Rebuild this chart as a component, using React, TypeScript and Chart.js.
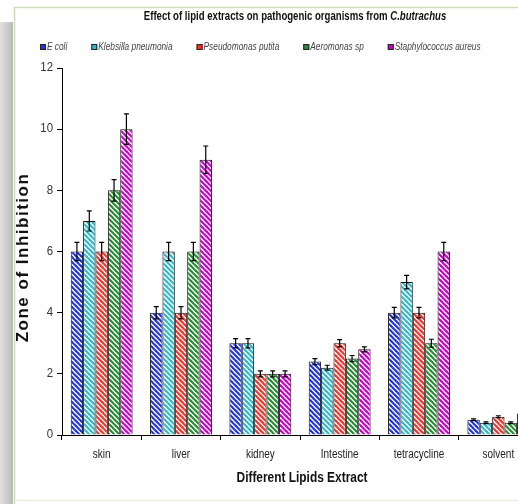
import React, { useEffect, useRef } from 'react';
import { Chart, registerables } from 'chart.js';

Chart.register(...registerables);

const categories = ['skin', 'liver', 'kidney', 'Intestine', 'tetracycline', 'solvent'];
const seriesNames = ['E coli', 'Klebsilla pneumonia', 'Pseudomonas putita', 'Aeromonas sp', 'Staphylococcus aureus'];
const eColi = [6, 4, 3, 2.4, 4, 0.5];
const klebsilla = [7, 6, 3, 2.2, 5, 0.4];
const pseudomonas = [6, 4, 2, 3, 4, 0.6];
const aeromonas = [8, 6, 2, 2.5, 3, 0.4];
const staphylococcus = [10, 9, 2, 2.8, 6, 0.7];
const eColiErr = [0.3, 0.2, 0.15, 0.1, 0.17, 0.03];
const klebsillaErr = [0.33, 0.3, 0.15, 0.08, 0.22, 0.03];
const pseudomonasErr = [0.3, 0.2, 0.1, 0.12, 0.17, 0.03];
const aeromonasErr = [0.35, 0.3, 0.1, 0.1, 0.13, 0.03];
const staphylococcusErr = [0.5, 0.45, 0.1, 0.08, 0.3, 0.03];
const yTicks = [0, 2, 4, 6, 8, 10, 12];
const seriesColors = ['#1f35e0', '#33b8c8', '#f2352c', '#2a8a35', '#cc00cc'];
const titleMain = 'Effect of lipid extracts on pathogenic organisms from ';
const titleItalic = 'C.butrachus';
const xTitle = 'Different Lipids Extract';
const yTitle = 'Zone of Inhibition';

const SANS = "'Liberation Sans', Arial, sans-serif";

function makePattern(color: string): CanvasPattern | string {
  const s = 5;
  const c = document.createElement('canvas');
  c.width = s;
  c.height = s;
  const g = c.getContext('2d');
  if (!g) return color;
  g.fillStyle = '#ffffff';
  g.fillRect(0, 0, s, s);
  g.strokeStyle = color;
  g.lineWidth = 2.2;
  for (const k of [-s, 0, s]) {
    g.beginPath();
    g.moveTo(k - 1, -1);
    g.lineTo(k + s + 1, s + 1);
    g.stroke();
  }
  const p = g.createPattern(c, 'repeat');
  return p || color;
}

function narrowText(ctx: any, text: string, x: number, y: number, font: string, sx: number, align: string, color: string) {
  ctx.save();
  ctx.translate(x, y);
  ctx.scale(sx, 1);
  ctx.font = font;
  ctx.fillStyle = color;
  ctx.textAlign = align;
  ctx.textBaseline = 'middle';
  ctx.fillText(text, 0, 0);
  ctx.restore();
}

export default function App() {
  const ref = useRef<HTMLCanvasElement | null>(null);

  useEffect(() => {
    const canvas = ref.current;
    if (!canvas) return;
    const values = [eColi, klebsilla, pseudomonas, aeromonas, staphylococcus];
    const errors = [eColiErr, klebsillaErr, pseudomonasErr, aeromonasErr, staphylococcusErr];

    const frame = {
      id: 'frame',
      beforeDraw(chart: any) {
        const ctx = chart.ctx;
        const w = chart.width;
        const h = chart.height;
        ctx.save();
        ctx.fillStyle = '#ffffff';
        ctx.fillRect(0, 0, w, h);
        const gx = ctx.createLinearGradient(0, 0, 13, 0);
        gx.addColorStop(0, '#e2e2e2');
        gx.addColorStop(1, '#b8b8b8');
        ctx.fillStyle = gx;
        ctx.fillRect(0, 22, 13, h - 22);
        const gy = ctx.createLinearGradient(0, 8, 0, 24);
        gy.addColorStop(0, 'rgba(255,255,255,1)');
        gy.addColorStop(1, 'rgba(255,255,255,0)');
        ctx.fillStyle = gy;
        ctx.fillRect(0, 8, 13, 16);
        ctx.strokeStyle = '#c9dcb5';
        ctx.lineWidth = 1.5;
        ctx.beginPath();
        ctx.moveTo(14.5, h);
        ctx.lineTo(14.5, 7.5);
        ctx.lineTo(w, 7.5);
        ctx.stroke();
        ctx.strokeStyle = '#e6f0dc';
        ctx.beginPath();
        ctx.moveTo(14, 500.5);
        ctx.lineTo(w, 500.5);
        ctx.stroke();
        ctx.restore();
      },
    };

    const errorBars = {
      id: 'errorBars',
      afterDatasetsDraw(chart: any) {
        const ctx = chart.ctx;
        const ys = chart.scales.y;
        ctx.save();
        ctx.strokeStyle = '#000000';
        ctx.lineWidth = 1.2;
        values.forEach((vals, i) => {
          const meta = chart.getDatasetMeta(i);
          meta.data.forEach((el: any, j: number) => {
            const v = vals[j];
            const e = errors[i][j];
            const top = ys.getPixelForValue(v + e);
            const bot = ys.getPixelForValue(v - e);
            const x = el.x;
            ctx.beginPath();
            ctx.moveTo(x, top);
            ctx.lineTo(x, bot);
            ctx.moveTo(x - 2.5, top);
            ctx.lineTo(x + 2.5, top);
            ctx.moveTo(x - 2.5, bot);
            ctx.lineTo(x + 2.5, bot);
            ctx.stroke();
          });
        });
        ctx.restore();
      },
    };

    const texts = {
      id: 'texts',
      afterDraw(chart: any) {
        const ctx = chart.ctx;
        const area = chart.chartArea;
        const xs = chart.scales.x;
        const ys = chart.scales.y;
        ctx.save();
        // title (mixed upright / italic)
        const sx = 0.8;
        const f1 = `bold 12px ${SANS}`;
        const f2 = `italic bold 12px ${SANS}`;
        ctx.font = f1;
        const w1 = ctx.measureText(titleMain).width * sx;
        ctx.font = f2;
        const w2 = ctx.measureText(titleItalic).width * sx;
        const cx = (area.left + area.right) / 2 - 5;
        const x0 = cx - (w1 + w2) / 2;
        narrowText(ctx, titleMain, x0, 17, f1, sx, 'left', '#111111');
        narrowText(ctx, titleItalic, x0 + w1, 17, f2, sx, 'left', '#111111');

        // legend
        const lf = `italic 10px ${SANS}`;
        const lsx = 0.83;
        ctx.font = lf;
        let lx = 40;
        const ly = 47;
        seriesNames.forEach((name, i) => {
          ctx.fillStyle = seriesColors[i];
          ctx.fillRect(lx, ly - 3, 6, 6);
          ctx.strokeStyle = '#222222';
          ctx.lineWidth = 1;
          ctx.strokeRect(lx + 0.5, ly - 2.5, 5, 5);
          narrowText(ctx, name, lx + 7, ly, lf, lsx, 'left', '#444444');
          ctx.font = lf;
          lx += 7 + ctx.measureText(name).width * lsx + 24;
        });

        // x tick labels
        categories.forEach((c, i) => {
          narrowText(ctx, c, xs.getPixelForValue(i), 455, `12.5px ${SANS}`, 0.8, 'center', '#222222');
        });
        // y tick labels
        yTicks.forEach((v) => {
          narrowText(ctx, String(v), 53, ys.getPixelForValue(v), `12px ${SANS}`, 0.95, 'right', '#333333');
        });
        // x title
        narrowText(ctx, xTitle, (area.left + area.right) / 2 + 2, 478, `bold 14px ${SANS}`, 0.85, 'center', '#111111');
        // y title
        ctx.save();
        ctx.translate(23, (area.top + area.bottom) / 2 + 6);
        ctx.rotate(-Math.PI / 2);
        ctx.font = `bold 17px ${SANS}`;
        (ctx as any).letterSpacing = '1.5px';
        ctx.fillStyle = '#111111';
        ctx.textAlign = 'center';
        ctx.textBaseline = 'middle';
        ctx.fillText(yTitle, 0, 0);
        ctx.restore();
        ctx.restore();
      },
    };

    const chart = new Chart(canvas, {
      type: 'bar',
      data: {
        labels: categories,
        datasets: values.map((vals, i) => ({
          label: seriesNames[i],
          data: vals,
          backgroundColor: makePattern(seriesColors[i]) as any,
          borderColor: '#111111',
          borderWidth: 1,
          barPercentage: 1,
          categoryPercentage: 0.78,
        })),
      },
      options: {
        responsive: false,
        animation: false,
        devicePixelRatio: 1,
        layout: { padding: { top: 68, right: 2, bottom: 0, left: 0 } },
        plugins: {
          legend: { display: false },
          title: { display: false },
          tooltip: { enabled: false },
        },
        scales: {
          x: {
            offset: true,
            grid: {
              display: true,
              offset: true,
              drawOnChartArea: false,
              drawTicks: true,
              tickLength: 5,
              color: '#000000',
            },
            border: { display: true, color: '#000000', width: 1 },
            ticks: { display: false, autoSkip: false },
            afterFit(scale: any) {
              scale.height = 69;
            },
          },
          y: {
            min: 0,
            max: 12,
            afterBuildTicks(scale: any) {
              scale.ticks = yTicks.map((v) => ({ value: v }));
            },
            grid: {
              display: true,
              drawOnChartArea: false,
              drawTicks: true,
              tickLength: 5,
              color: '#000000',
            },
            border: { display: true, color: '#000000', width: 1 },
            ticks: { display: false },
            afterFit(scale: any) {
              scale.width = 62;
            },
          },
        },
      },
      plugins: [frame, errorBars, texts],
    });

    return () => {
      chart.destroy();
    };
  }, []);

  return (
    <div
      style={{
        position: 'fixed',
        left: 0,
        top: 0,
        width: 518,
        height: 504,
        overflow: 'hidden',
        background: '#ffffff',
      }}
    >
      <canvas ref={ref} width={540} height={504} style={{ width: 540, height: 504, display: 'block' }} />
    </div>
  );
}
